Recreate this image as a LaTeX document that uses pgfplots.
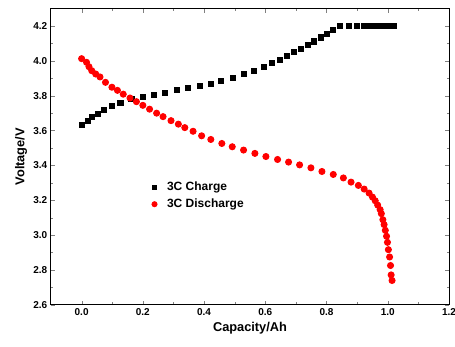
\documentclass[border=0pt]{standalone}
\usepackage{fontspec}
\setmainfont{Liberation Sans}
\usepackage{pgfplots}
\pgfplotsset{compat=1.18}
\begin{document}
\begin{tikzpicture}[x=1pt,y=1pt]
\useasboundingbox (-51,-42) rectangle (404,304.7);
\begin{axis}[
  scale only axis, width=398pt, height=296pt,
  at={(0,0)}, anchor=south west,
  xmin=-0.1, xmax=1.2, ymin=2.6, ymax=4.3,
  xtick={0,0.2,...,1.2}, ytick={2.6,2.8,...,4.2},
  minor x tick num=1, minor y tick num=1,
  tick align=inside, xtick pos=both, ytick pos=both,
  major tick length=4pt, minor tick length=2.5pt,
  /pgf/number format/assume math mode=true,
  /pgf/number format/fixed, /pgf/number format/fixed zerofill, /pgf/number format/precision=1,
  tick label style={font=\bfseries\fontsize{10}{12}\selectfont},
  xlabel={Capacity/Ah}, ylabel={Voltage/V},
  label style={font=\bfseries\fontsize{12.8}{15}\selectfont},
  xlabel style={yshift=1pt},
  ylabel style={yshift=-1pt},
  every axis/.append style={line width=1pt},
  clip=false,
  legend style={draw=none, fill=none, at={(0.245,0.43)}, anchor=north west,
    font=\bfseries\fontsize{12}{14}\selectfont, row sep=3pt, /tikz/column sep=8pt},
  legend cell align=left,
]
\addplot[only marks, mark=square*, mark size=2.6pt, black, legend image post style={mark size=2pt}] coordinates {
(0,3.633)(0.022,3.656)(0.035,3.677)(0.053,3.697)(0.074,3.72)(0.098,3.74)(0.127,3.76)(0.163,3.78)
(0.2,3.793)(0.237,3.806)(0.273,3.818)(0.312,3.831)(0.347,3.843)(0.386,3.856)(0.422,3.869)(0.456,3.886)
(0.494,3.902)(0.53,3.923)(0.562,3.942)(0.595,3.963)(0.622,3.986)(0.647,4.007)(0.672,4.028)(0.695,4.049)
(0.716,4.07)(0.74,4.093)(0.76,4.112)(0.781,4.135)(0.802,4.156)(0.822,4.179)(0.843,4.2)(0.874,4.2)
(0.899,4.2)(0.923,4.2)(0.939,4.2)(0.955,4.2)(0.965,4.2)(0.975,4.2)(0.985,4.2)(0.995,4.2)(1.004,4.2)(1.012,4.2)(1.019,4.2)
};
\addlegendentry{3C Charge}
\addplot[only marks, mark=*, mark size=3pt, draw=red, fill=red, legend image post style={mark size=2.5pt}] coordinates {
(0,4.013)(0.016,3.992)(0.024,3.967)(0.033,3.944)(0.046,3.925)(0.06,3.908)(0.078,3.877)(0.099,3.849)
(0.117,3.831)(0.136,3.809)(0.158,3.787)(0.179,3.766)(0.2,3.745)(0.222,3.723)(0.245,3.7)(0.266,3.68)
(0.292,3.657)(0.316,3.637)(0.337,3.617)(0.364,3.596)(0.392,3.57)(0.422,3.549)(0.458,3.526)(0.492,3.507)
(0.529,3.488)(0.566,3.469)(0.602,3.451)(0.64,3.434)(0.676,3.419)(0.712,3.403)(0.749,3.386)(0.785,3.365)
(0.822,3.348)(0.855,3.328)(0.88,3.304)(0.904,3.285)(0.923,3.264)(0.939,3.241)(0.95,3.218)(0.959,3.197)
(0.967,3.172)(0.975,3.146)(0.979,3.123)(0.984,3.088)(0.988,3.06)(0.992,3.027)(0.996,2.993)(0.999,2.958)
(1.002,2.916)(1.006,2.874)(1.009,2.825)(1.011,2.771)(1.014,2.739)
};
\addlegendentry{3C Discharge}
\draw[line width=1pt, black] (rel axis cs:0,0) rectangle (rel axis cs:1,1);
\end{axis}
\end{tikzpicture}
\end{document}
